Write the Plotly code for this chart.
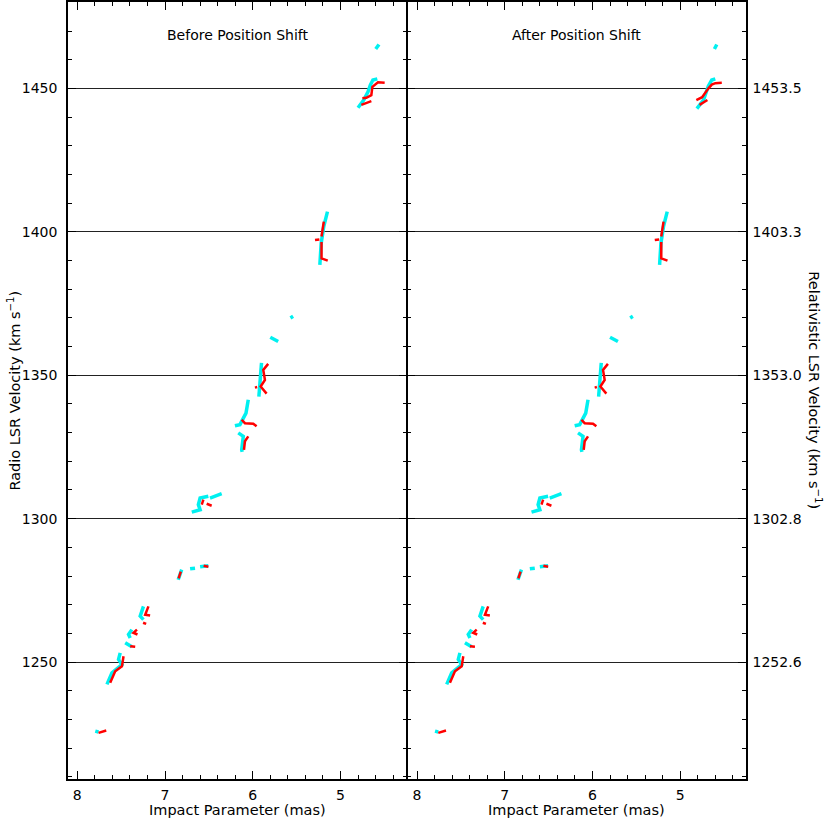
import plotly.graph_objects as go

# ---------------- data (impact parameter in mas, radio LSR velocity in km/s) ----------------
panel_titles = ["Before Position Shift", "After Position Shift"]
y_tick_vals = [1250, 1300, 1350, 1400, 1450]
y_tick_text_left = ["1250", "1300", "1350", "1400", "1450"]
y_tick_text_right = ["1252.6", "1302.8", "1353.0", "1403.3", "1453.5"]
x_tick_vals = [8, 7, 6, 5]

cyan_before = [
    [(4.561, 1465.4), (4.598, 1463.8)],
    [(4.58, 1453.4), (4.63, 1453.0), (4.66, 1451.2), (4.686, 1448.9), (4.735, 1446.0), (4.80, 1443.3)],
    [(5.148, 1407.1), (5.19, 1402.0), (5.22, 1396.0), (5.225, 1392.0), (5.235, 1388.5)],
    [(5.54, 1370.6), (5.57, 1370.0)],
    [(5.80, 1363.3), (5.74, 1362.5), (5.71, 1361.8)],
    [(5.90, 1354.3), (5.91, 1349.0), (5.925, 1346.0), (5.93, 1342.6)],
    [(6.051, 1341.5), (6.077, 1336.8), (6.146, 1332.8), (6.203, 1332.4)],
    [(6.165, 1329.9), (6.108, 1328.7), (6.126, 1324.0), (6.12, 1323.3)],
    [(6.354, 1308.7), (6.487, 1307.2)],
    [(6.506, 1307.8), (6.60, 1307.2), (6.62, 1304.9), (6.60, 1303.1), (6.695, 1302.3)],
    [(6.81, 1282.2), (6.85, 1278.7)],
    [(6.714, 1282.5), (6.658, 1282.7)],
    [(6.60, 1283.2), (6.506, 1283.6)],
    [(7.246, 1269.4), (7.283, 1266.0), (7.246, 1264.8)],
    [(7.378, 1261.3), (7.416, 1259.6), (7.397, 1258.4)],
    [(7.454, 1256.7), (7.378, 1255.3)],
    [(7.511, 1253.2), (7.53, 1250.9), (7.491, 1249.1), (7.605, 1246.2), (7.662, 1242.2)],
    [(7.795, 1225.9), (7.758, 1225.6)],
]

red_before = [
    [(4.496, 1452.0), (4.572, 1452.2), (4.636, 1450.6), (4.648, 1447.7), (4.705, 1446.8), (4.75, 1446.6)],
    [(4.648, 1445.6), (4.724, 1444.8), (4.762, 1444.3)],
    [(5.19, 1403.6), (5.216, 1398.4)],
    [(5.216, 1396.5), (5.216, 1390.8), (5.145, 1390.0)],
    [(5.29, 1397.2), (5.24, 1397.4)],
    [(5.824, 1354.0), (5.88, 1351.9), (5.861, 1348.4), (5.91, 1346.1), (5.842, 1343.6)],
    [(5.975, 1345.7), (5.95, 1345.9)],
    [(6.126, 1334.5), (6.089, 1333.3), (5.994, 1333.1), (5.956, 1332.2)],
    [(6.051, 1328.7), (6.089, 1327.0), (6.10, 1324.0)],
    [(6.563, 1306.6), (6.581, 1304.9)],
    [(6.525, 1305.2), (6.468, 1304.5)],
    [(6.82, 1281.5), (6.845, 1279.2)],
    [(6.56, 1283.6), (6.506, 1283.2)],
    [(7.189, 1269.4), (7.226, 1266.5), (7.17, 1266.2)],
    [(7.25, 1263.7), (7.215, 1263.3)],
    [(7.32, 1261.3), (7.36, 1260.2), (7.314, 1259.6)],
    [(7.397, 1255.5), (7.34, 1255.3)],
    [(7.473, 1252.0), (7.491, 1248.5), (7.568, 1246.8), (7.605, 1243.9), (7.625, 1242.8)],
    [(7.758, 1225.3), (7.67, 1226.1)],
]

cyan_after = [
    [(4.583, 1465.4), (4.61, 1463.8)],
    [(4.60, 1453.4), (4.64, 1453.0), (4.68, 1450.8), (4.70, 1448.9), (4.735, 1446.0), (4.81, 1443.0)],
    [(5.148, 1407.1), (5.19, 1402.0), (5.22, 1396.0), (5.225, 1392.0), (5.235, 1388.5)],
    [(5.54, 1370.6), (5.57, 1370.0)],
    [(5.80, 1363.3), (5.74, 1362.5), (5.71, 1361.8)],
    [(5.90, 1354.3), (5.91, 1349.0), (5.925, 1346.0), (5.93, 1342.6)],
    [(6.051, 1341.5), (6.077, 1336.8), (6.146, 1332.8), (6.203, 1332.4)],
    [(6.165, 1329.9), (6.108, 1328.7), (6.126, 1324.0), (6.12, 1323.3)],
    [(6.354, 1308.7), (6.487, 1307.2)],
    [(6.506, 1307.8), (6.60, 1307.2), (6.62, 1304.9), (6.60, 1303.1), (6.695, 1302.3)],
    [(6.81, 1282.2), (6.85, 1278.7)],
    [(6.714, 1282.5), (6.658, 1282.7)],
    [(6.60, 1283.2), (6.506, 1283.6)],
    [(7.246, 1269.4), (7.283, 1266.0), (7.246, 1264.8)],
    [(7.378, 1261.3), (7.416, 1259.6), (7.397, 1258.4)],
    [(7.454, 1256.7), (7.378, 1255.3)],
    [(7.511, 1253.2), (7.53, 1250.9), (7.491, 1249.1), (7.605, 1246.2), (7.662, 1242.2)],
    [(7.795, 1225.9), (7.758, 1225.6)],
]

red_after = [
    [(4.526, 1452.0), (4.60, 1451.9), (4.64, 1451.4), (4.68, 1450.0), (4.75, 1447.0), (4.816, 1446.0)],
    [(4.69, 1446.0), (4.75, 1444.8), (4.78, 1444.3)],
    [(5.19, 1403.6), (5.216, 1398.4)],
    [(5.216, 1396.5), (5.216, 1390.8), (5.145, 1390.0)],
    [(5.29, 1397.2), (5.24, 1397.4)],
    [(5.824, 1354.0), (5.88, 1351.9), (5.861, 1348.4), (5.91, 1346.1), (5.842, 1343.6)],
    [(5.975, 1345.7), (5.95, 1345.9)],
    [(6.126, 1334.5), (6.089, 1333.3), (5.994, 1333.1), (5.956, 1332.2)],
    [(6.051, 1328.7), (6.089, 1327.0), (6.10, 1324.0)],
    [(6.563, 1306.6), (6.581, 1304.9)],
    [(6.525, 1305.2), (6.468, 1304.5)],
    [(6.82, 1281.5), (6.845, 1279.2)],
    [(6.56, 1283.6), (6.506, 1283.2)],
    [(7.189, 1269.4), (7.226, 1266.5), (7.17, 1266.2)],
    [(7.25, 1263.7), (7.215, 1263.3)],
    [(7.32, 1261.3), (7.36, 1260.2), (7.314, 1259.6)],
    [(7.397, 1255.5), (7.34, 1255.3)],
    [(7.473, 1252.0), (7.491, 1248.5), (7.568, 1246.8), (7.605, 1243.9), (7.625, 1242.8)],
    [(7.758, 1225.3), (7.67, 1226.1)],
]

# ---------------- figure ----------------
def flatten(segments):
    xs, ys = [], []
    for seg in segments:
        for x, y in seg:
            xs.append(x)
            ys.append(y)
        xs.append(None)
        ys.append(None)
    return xs, ys

CYAN = "#00f0f0"
RED = "#ff0000"

fig = go.Figure()
for idx, (cy, rd) in enumerate([(cyan_before, red_before), (cyan_after, red_after)]):
    xa = "x" if idx == 0 else "x2"
    ya = "y" if idx == 0 else "y2"
    cx, cyv = flatten(cy)
    rx, ryv = flatten(rd)
    fig.add_trace(go.Scatter(x=cx, y=cyv, mode="lines", xaxis=xa, yaxis=ya,
                             line=dict(color=CYAN, width=3.5), connectgaps=False,
                             hoverinfo="skip", showlegend=False))
    fig.add_trace(go.Scatter(x=rx, y=ryv, mode="lines", xaxis=xa, yaxis=ya,
                             line=dict(color=RED, width=2.5), connectgaps=False,
                             hoverinfo="skip", showlegend=False))

FONT = "DejaVu Sans, Verdana, sans-serif"
X_RANGE = [8.106, 4.25]
Y_RANGE = [1209.2, 1480.2]

xcommon = dict(range=X_RANGE, showline=True, linecolor="black", linewidth=1.5,
               mirror="allticks", ticks="inside", ticklen=8, tickwidth=1.2,
               tickcolor="black", tickvals=x_tick_vals, showgrid=False, zeroline=False,
               automargin=False,
               tickfont=dict(family=FONT, size=14, color="black"),
               minor=dict(dtick=0.2, ticks="inside", ticklen=4, tickwidth=1.2,
                          tickcolor="black", showgrid=False))
ycommon = dict(range=Y_RANGE, showline=True, linecolor="black", linewidth=1.5,
               mirror="allticks", ticks="inside", ticklen=8, tickwidth=1.2,
               tickcolor="black", tickvals=y_tick_vals, showgrid=True,
               gridcolor="#222222", gridwidth=1, zeroline=False,
               automargin=False,
               tickfont=dict(family=FONT, size=14, color="black"),
               minor=dict(dtick=10, tick0=1200, ticks="inside", ticklen=4, tickwidth=1.2,
                          tickcolor="black", showgrid=False))

fig.update_layout(
    width=830, height=820,
    margin=dict(l=68, r=84, t=2, b=41, autoexpand=False),
    paper_bgcolor="white", plot_bgcolor="white",
    xaxis=dict(domain=[0, 0.4989], anchor="y", ticklabelstandoff=2, **xcommon),
    xaxis2=dict(domain=[0.5011, 1], anchor="y2", ticklabelstandoff=2, **xcommon),
    yaxis=dict(anchor="x", ticktext=y_tick_text_left, ticklabelstandoff=6, **ycommon),
    yaxis2=dict(anchor="x2", side="right", ticktext=y_tick_text_right,
                ticklabelstandoff=2, **ycommon),
)

annotations = []
for i, t in enumerate(panel_titles):
    annotations.append(dict(text=t, x=0.25 + 0.5 * i, y=1480.2 - 11.5, xref="paper", yref="y",
                            showarrow=False, font=dict(family=FONT, size=14, color="black"),
                            xanchor="center", yanchor="middle"))
    annotations.append(dict(text="Impact Parameter (mas)", x=0.25 + 0.5 * i, y=-0.04,
                            xref="paper", yref="paper", showarrow=False,
                            font=dict(family=FONT, size=14.5, color="black"),
                            xanchor="center", yanchor="middle"))
annotations.append(dict(text="Radio LSR Velocity (km s<sup>−1</sup>)", x=-0.081, y=0.5,
                        xref="paper", yref="paper", showarrow=False, textangle=-90,
                        font=dict(family=FONT, size=14.5, color="black"),
                        xanchor="center", yanchor="middle"))
annotations.append(dict(text="Relativistic LSR Velocity (km s<sup>−1</sup>)", x=1.102, y=0.5,
                        xref="paper", yref="paper", showarrow=False, textangle=90,
                        font=dict(family=FONT, size=14.5, color="black"),
                        xanchor="center", yanchor="middle"))
fig.update_layout(annotations=annotations)

fig.write_html("out.html", config={"displayModeBar": False},
               post_script="document.body.style.margin='0';")
